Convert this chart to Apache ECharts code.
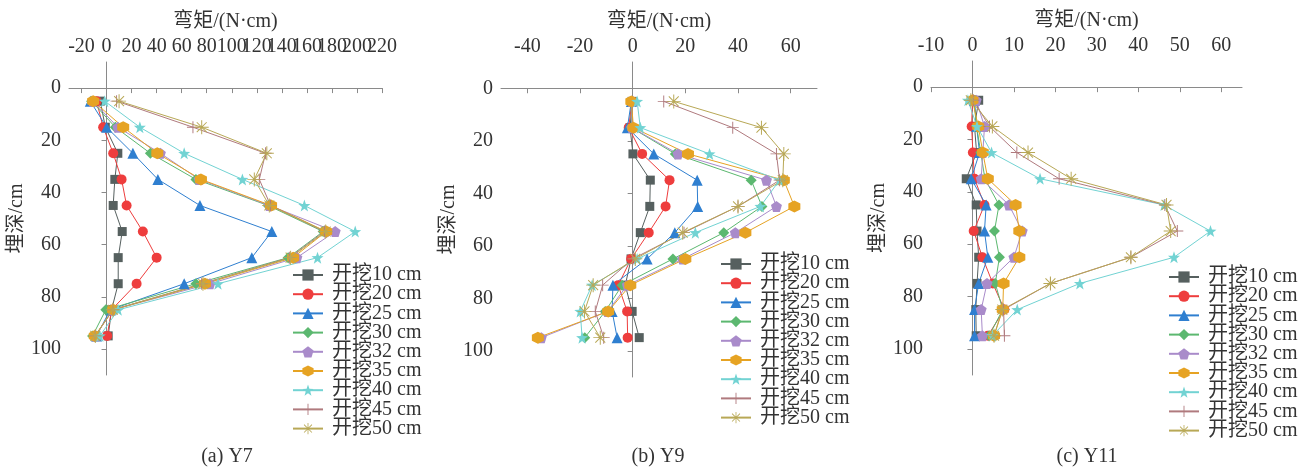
<!DOCTYPE html>
<html><head><meta charset="utf-8">
<script src="https://cdn.jsdelivr.net/npm/echarts@6/dist/echarts.min.js"></script>
<style>html,body{margin:0;padding:0;background:#fff}#c{width:1311px;height:468px}</style>
</head><body><div id="c"></div>
<script>
// ---- data ----
const depths = [5, 15, 25, 35, 45, 55, 65, 75, 85, 95];
const seriesNames = ['开挖10 cm','开挖20 cm','开挖25 cm','开挖30 cm','开挖32 cm','开挖35 cm','开挖40 cm','开挖45 cm','开挖50 cm'];
const panelCaptions = ['(a) Y7', '(b) Y9', '(c) Y11'];
const xTicksY7 = [-20, 0, 20, 40, 60, 80, 100, 120, 140, 160, 180, 200, 220];
const xTicksY9 = [-40, -20, 0, 20, 40, 60];
const xTicksY11 = [-10, 0, 10, 20, 30, 40, 50, 60];
const yTicks = [0, 20, 40, 60, 80, 100];

// Y7
const Y7_10 = [-5, -1, 9, 6.6, 5.3, 12.5, 9.3, 9.3, 4, 1.3];
const Y7_20 = [-8, -2.7, 5.3, 12, 16, 29, 40, 24, 4, 0.5];
const Y7_25 = [-13, 0, 21, 41, 74.6, 132, 116, 62, 3, -8];
const Y7_30 = [-12, 7, 35, 71.4, 129, 173, 145, 71.4, -0.6, -11.2];
const Y7_32 = [-11, 9, 43, 74, 130, 182.6, 152, 82.6, 5, -9];
const Y7_35 = [-10.7, 13.3, 40.5, 75.4, 131.4, 175.4, 149, 78.6, 5.3, -9.4];
const Y7_40 = [-1.5, 26.6, 62, 108.5, 158, 198.6, 168.5, 89, 9.3, -5.4];
const Y7_45 = [8, 69, 127, 122, 131, 174, 146, 76, 5, -9];
const Y7_50 = [10, 76, 128, 118, 130, 175, 147, 77, 5, -9];
// Y9
const Y9_10 = [-0.2, -1, 0.1, 6.7, 6.5, 2.9, -0.6, -2.8, -0.2, 2.5];
const Y9_20 = [-0.3, -1.5, 3.6, 14, 12.5, 6.1, -0.6, -5.5, -2.1, -1.9];
const Y9_25 = [-0.5, -2, 8, 24.5, 24.7, 16, 5.5, -7.5, -7.8, -5.9];
const Y9_30 = [-0.5, -0.5, 16.2, 45, 49.1, 34.6, 15.3, -4, -10.4, -18.2];
const Y9_32 = [-0.3, -0.3, 17.2, 50.8, 54.6, 39, 19, -2, -9.5, -34.7];
const Y9_35 = [-0.5, 0.3, 21, 57.4, 61.4, 42.8, 20, -0.9, -9.3, -36];
const Y9_40 = [1.7, 2.9, 29.2, 55.8, 48.5, 23.8, 1.7, -15.4, -19.9, -19.2];
const Y9_45 = [11.8, 38, 54.6, 55.8, 40, 19.5, 0, -11.4, -14.2, -11];
const Y9_50 = [15.6, 48.9, 57.4, 57, 40, 19, 1, -15, -18.3, -12.3];
// Y11
const Y11_10 = [1.5, 0.5, 1, -1.5, 0.9, 1.1, 1.5, 1.1, 0.8, 0.9];
const Y11_20 = [0, -0.2, 0.1, 0.5, 2.9, 0.3, 2.4, 4.9, 7.7, 3.7];
const Y11_25 = [0.5, 1, 1.7, -0.3, 3.3, 2.9, 3.7, 1.5, 0.5, 0.5];
const Y11_30 = [0.3, 1, 2, 3, 6.4, 5.3, 6.5, 5.5, 7.3, 4];
const Y11_32 = [0.9, 2.9, 2.5, 2.1, 8.8, 12, 10, 3.5, 2.1, 2.4];
const Y11_35 = [0, 1.4, 2.5, 3.7, 10.4, 11.3, 11.3, 7.5, 7.3, 5.2];
const Y11_40 = [-1.1, 1.1, 4.6, 16.3, 46.2, 57.4, 48.6, 25.9, 10.8, 4.8];
const Y11_45 = [0.2, 4.1, 10.7, 20.9, 46.4, 49.4, 38.2, 18.8, 7.5, 7.7];
const Y11_50 = [-0.4, 4.8, 13.4, 23.8, 46.8, 47.8, 38.2, 18.8, 7.2, 5.2];

const panels = [
  [Y7_10, Y7_20, Y7_25, Y7_30, Y7_32, Y7_35, Y7_40, Y7_45, Y7_50],
  [Y9_10, Y9_20, Y9_25, Y9_30, Y9_32, Y9_35, Y9_40, Y9_45, Y9_50],
  [Y11_10, Y11_20, Y11_25, Y11_30, Y11_32, Y11_35, Y11_40, Y11_45, Y11_50]
];

// ---- styles ----
const FONT = "'Liberation Serif', 'Noto Sans CJK SC', serif";
const colors = ['#56605f', '#ee3d3d', '#2f7fd0', '#5cb870', '#a98bca', '#e6a323', '#72d3d3', '#b07a7e', '#b8a856'];
const PENT = 'path://M0,-1 L0.951,-0.309 L0.588,0.809 L-0.588,0.809 L-0.951,-0.309 Z';
const HEX = 'path://M0,-1 L0.866,-0.5 L0.866,0.5 L0,1 L-0.866,0.5 L-0.866,-0.5 Z';
const STAR = 'path://M0,-1 L0.235,-0.324 L0.951,-0.309 L0.380,0.124 L0.588,0.809 L0,0.4 L-0.588,0.809 L-0.380,0.124 L-0.951,-0.309 L-0.235,-0.324 Z';
const PLUS = 'path://M-0.08,-1 L0.08,-1 L0.08,1 L-0.08,1 Z M-1,-0.08 L1,-0.08 L1,0.08 L-1,0.08 Z';
const AST = 'path://M-0.07,-1 L0.07,-1 L0.07,1 L-0.07,1 Z M-1,-0.07 L1,-0.07 L1,0.07 L-1,0.07 Z M-0.657,-0.757 L0.757,0.657 L0.657,0.757 L-0.757,-0.657 Z M0.757,-0.657 L-0.657,0.757 L-0.757,0.657 L0.657,-0.757 Z';
const symbols = ['rect', 'circle', 'triangle', 'diamond', PENT, HEX, STAR, PLUS, AST];
const symbolSizes = [9, 10, 11, 11, 11, 12, 12, 12, 14];

const grids = [
  {left: 69, top: 62, width: 313, height: 313},
  {left: 501, top: 62, width: 316, height: 315},
  {left: 931, top: 61, width: 311, height: 314}
];
const xRanges = [[-30, 220, xTicksY7], [-50, 70, xTicksY9], [-10, 65, xTicksY11]];
const legendPos = [{left: 292, top: 265}, {left: 720, top: 254}, {left: 1168, top: 267}];
const captionPos = [[227, 457], [658, 457], [1087, 457]];

const axisColor = '#8a8a8a';
const labelStyle = {fontFamily: FONT, fontSize: 20, color: '#333', margin: 5, hideOverlap: false, showMaxLabel: true, showMinLabel: true};
const xAxes = xRanges.map((r, i) => ({
  type: 'value', gridIndex: i, position: 'top', min: r[0], max: r[1],
  name: '弯矩/(N·cm)', nameLocation: 'middle', nameGap: 28,
  nameTextStyle: {fontFamily: FONT, fontSize: 20, color: '#333'},
  axisLine: {show: true, lineStyle: {color: axisColor, width: 1}},
  axisTick: {show: true, inside: true, length: 5, customValues: r[2], lineStyle: {color: axisColor}},
  axisLabel: Object.assign({customValues: i === 0 ? r[2].filter((v, j) => j % 2 === 0) : r[2]}, labelStyle),
  splitLine: {show: false}
}));
// companion label-only axis for panel (a): the odd-indexed tick labels, same scale as axis 0
xAxes.push({
  type: 'value', gridIndex: 0, position: 'top', offset: 0, min: xRanges[0][0], max: xRanges[0][1],
  axisLine: {show: false}, axisTick: {show: false}, splitLine: {show: false},
  axisLabel: Object.assign({customValues: xTicksY7.filter((v, j) => j % 2 === 1)}, labelStyle)
});
const yAxes = grids.map((g, i) => ({
  type: 'value', gridIndex: i, inverse: true, min: -10, max: 110,
  name: '埋深/cm', nameLocation: 'middle', nameGap: 42,
  nameTextStyle: {fontFamily: FONT, fontSize: 20, color: '#333'},
  axisLine: {show: true, lineStyle: {color: axisColor, width: 1}},
  axisTick: {show: true, inside: false, length: 5, customValues: yTicks, lineStyle: {color: axisColor}},
  axisLabel: {customValues: yTicks, fontFamily: FONT, fontSize: 20, color: '#333', margin: 8},
  splitLine: {show: false}
}));

const series = [];
panels.forEach((vals, p) => {
  vals.forEach((arr, k) => {
    series.push({
      type: 'line', name: seriesNames[k], xAxisIndex: p, yAxisIndex: p,
      data: arr.map((v, j) => [v, depths[j]]),
      symbol: symbols[k], symbolSize: symbolSizes[k],
      color: colors[k],
      itemStyle: {color: colors[k]},
      lineStyle: {color: colors[k], width: 1},
      emphasis: {disabled: true}
    });
  });
});

const legends = legendPos.map(pos => ({
  orient: 'vertical', left: pos.left, top: pos.top, padding: 0,
  data: seriesNames, itemWidth: 30, itemHeight: 14, itemGap: -0.8,
  textStyle: {fontFamily: FONT, fontSize: 20, color: '#333', lineHeight: 14, padding: [0, 0, 0, 4]}
}));

const graphics = panelCaptions.map((t, i) => ({
  type: 'text', style: {x: captionPos[i][0], y: captionPos[i][1], text: t, textAlign: 'center', textVerticalAlign: 'middle', font: '20px ' + FONT, fill: '#333'}
}));

const chart = echarts.init(document.getElementById('c'), null, {renderer: 'canvas'});
chart.setOption({
  animation: false,
  backgroundColor: '#fff',
  grid: grids,
  xAxis: xAxes,
  yAxis: yAxes,
  legend: legends,
  graphic: graphics,
  series: series
});
</script></body></html>
